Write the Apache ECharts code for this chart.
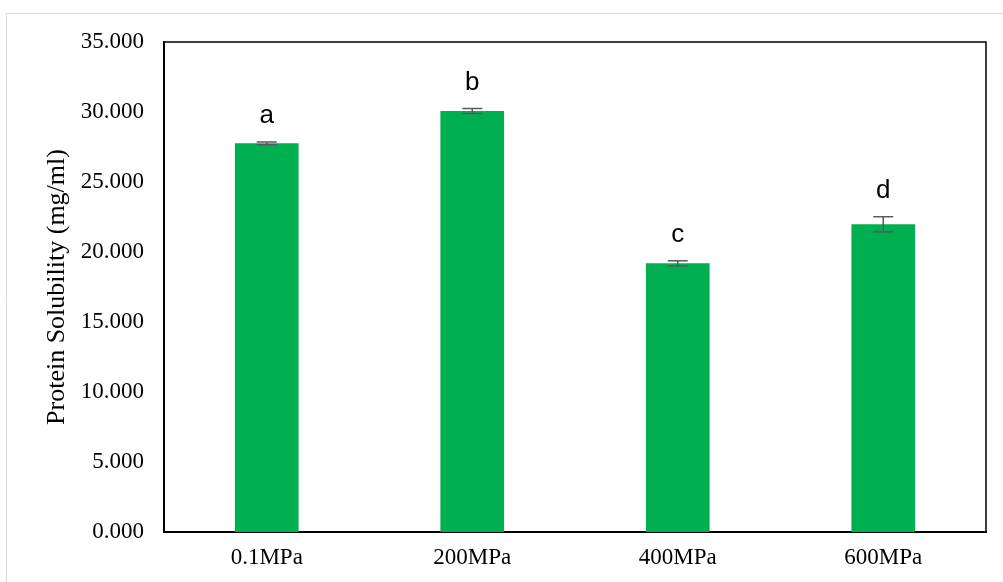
<!DOCTYPE html>
<html>
<head>
<meta charset="utf-8">
<script src="https://cdn.jsdelivr.net/npm/echarts@6/dist/echarts.min.js"></script>
<style>html,body{margin:0;padding:0;background:#fff}#c{width:1003px;height:582px}</style>
</head>
<body>
<div id="c"></div>
<script>
var categories = ['0.1MPa', '200MPa', '400MPa', '600MPa'];
var values = [27.76, 30.07, 19.19, 21.98];
var errors = [0.10, 0.18, 0.18, 0.54];
var letters = ['a', 'b', 'c', 'd'];
var yTicks = {min: 0, max: 35, interval: 5};

var chart = echarts.init(document.getElementById('c'));
var errData = values.map(function (v, i) { return [i, v, errors[i], letters[i]]; });

chart.setOption({
  animation: false,
  backgroundColor: '#fff',
  graphic: [{
    type: 'rect', shape: {x: 6.5, y: 13.5, width: 1100, height: 700},
    style: {fill: 'none', stroke: '#d9d9d9', lineWidth: 1}, z: -10
  }],
  grid: {left: 164, top: 42, right: 17, bottom: 50, show: true, borderColor: '#000', borderWidth: 1.5, backgroundColor: 'transparent'},
  xAxis: {
    type: 'category', data: categories,
    axisLine: {lineStyle: {color: '#000', width: 2}},
    axisTick: {show: false},
    axisLabel: {color: '#000', fontFamily: 'Liberation Serif', fontSize: 23, margin: 14}
  },
  yAxis: {
    type: 'value', min: yTicks.min, max: yTicks.max, interval: yTicks.interval,
    name: 'Protein Solubility (mg/ml)', nameLocation: 'middle', nameGap: 93,
    nameTextStyle: {color: '#000', fontFamily: 'Liberation Serif', fontSize: 26},
    axisLine: {show: true, lineStyle: {color: '#000', width: 2}},
    axisTick: {show: false},
    splitLine: {show: false},
    axisLabel: {color: '#000', fontFamily: 'Liberation Serif', fontSize: 23, margin: 20,
      formatter: function (v) { return v.toFixed(3); }}
  },
  series: [{
    type: 'bar', data: values, barWidth: '31%',
    itemStyle: {color: '#00b050'}
  }, {
    type: 'custom', data: errData, z: 10,
    renderItem: function (params, api) {
      var i = api.value(0), v = api.value(1), e = api.value(2);
      var hi = api.coord([i, v + e]), lo = api.coord([i, v - e]);
      var w = 10;
      var st = {stroke: '#595959', lineWidth: 1.5};
      return {type: 'group', children: [
        {type: 'line', shape: {x1: hi[0], y1: hi[1], x2: lo[0], y2: lo[1]}, style: st},
        {type: 'line', shape: {x1: hi[0] - w, y1: hi[1], x2: hi[0] + w, y2: hi[1]}, style: st},
        {type: 'line', shape: {x1: lo[0] - w, y1: lo[1], x2: lo[0] + w, y2: lo[1]}, style: st},
        {type: 'text', x: hi[0], y: hi[1] - 26, style: {text: letters[params.dataIndex], fill: '#000',
          font: '26px "Liberation Sans"', align: 'center', verticalAlign: 'middle'}}
      ]};
    }
  }]
});
</script>
</body>
</html>
